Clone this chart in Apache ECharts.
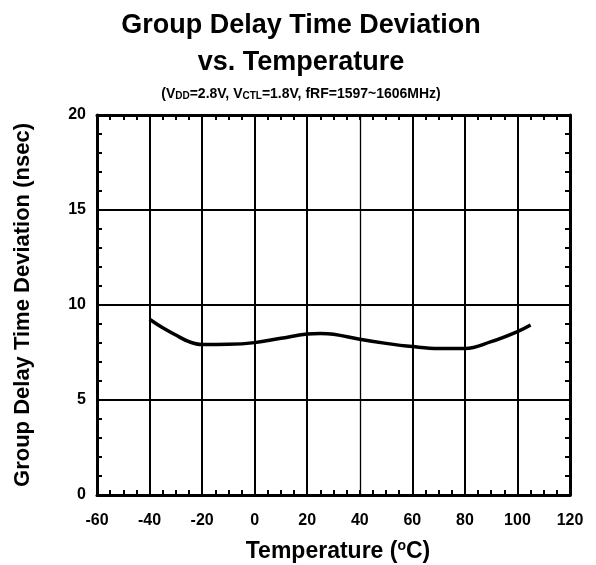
<!DOCTYPE html>
<html>
<head>
<meta charset="utf-8">
<script src="https://cdn.jsdelivr.net/npm/echarts@6/dist/echarts.min.js"></script>
<style>html,body{margin:0;padding:0;background:#fff}#c{width:596px;height:565px}</style>
</head>
<body>
<div id="c"></div>
<script>
var temps = [-40, -35, -30, -25, -20, -10, 0, 10, 20, 25, 30, 40, 50, 60, 70, 80, 90, 100, 105];
var delay = [9.25, 8.8, 8.42, 8.07, 7.92, 7.93, 8.02, 8.25, 8.47, 8.5, 8.46, 8.2, 7.98, 7.81, 7.71, 7.71, 8.07, 8.6, 8.95];
var xTicks = [-60, -40, -20, 0, 20, 40, 60, 80, 100, 120];
var yTicks = [0, 5, 10, 15, 20];
var xGridValues = [-40, -20, 0, 20, 40, 60, 80, 100];
var xGridWidths = [2, 2, 2, 2, 1.3, 2, 2, 2];

var FONT = 'Liberation Sans, Arial, sans-serif';
var chart = echarts.init(document.getElementById('c'), null, {renderer: 'canvas'});

var axisCommon = {
  axisLine: {show: true, onZero: false, lineStyle: {color: '#000', width: 3}},
  axisTick: {show: true, inside: true, length: 5, lineStyle: {color: '#000', width: 2}},
  minorTick: {show: true, length: 5, lineStyle: {color: '#000', width: 2}},
};

chart.setOption({
  animation: false,
  backgroundColor: '#fff',
  title: [
    {text: 'Group Delay Time Deviation\nvs. Temperature', left: 296, top: 2, textAlign: 'center',
     textStyle: {fontFamily: FONT, fontWeight: 'bold', fontSize: 27, lineHeight: 37, color: '#000'}},
    {text: '{n|(V}{s|DD}{n|=2.8V, V}{s|CTL}{n|=1.8V, fRF=1597~1606MHz)}', left: 296, top: 82, textAlign: 'center',
     textStyle: {rich: {
       n: {fontFamily: FONT, fontWeight: 'bold', fontSize: 14, color: '#000'},
       s: {fontFamily: FONT, fontWeight: 'bold', fontSize: 10, color: '#000', verticalAlign: 'bottom', padding: [3, 0, 0, 0]}
     }}},
    {text: '{n|Temperature (}{s|o}{n|C)}', left: 333, top: 534, textAlign: 'center',
     textStyle: {rich: {
       n: {fontFamily: FONT, fontWeight: 'bold', fontSize: 23, lineHeight: 26, color: '#000'},
       s: {fontFamily: FONT, fontWeight: 'bold', fontSize: 14, lineHeight: 14, color: '#000', verticalAlign: 'top'}
     }}}
  ],
  grid: {left: 97, right: 26, top: 115, bottom: 70, containLabel: false},
  xAxis: [
    Object.assign({}, axisCommon, {
      type: 'value', position: 'bottom', min: -60, max: 120, interval: 20,
      minorTick: Object.assign({}, axisCommon.minorTick, {splitNumber: 4}),
      splitLine: {show: false},
      axisLabel: {show: true, margin: 18, color: '#000', fontFamily: FONT, fontWeight: 'bold', fontSize: 16,
        formatter: function (v) { return xTicks.indexOf(v) >= 0 ? String(v) : ''; }}
    }),
    Object.assign({}, axisCommon, {
      type: 'value', position: 'top', min: -60, max: 120, interval: 20,
      minorTick: Object.assign({}, axisCommon.minorTick, {splitNumber: 4}),
      splitLine: {show: false}, axisLabel: {show: false}
    })
  ],
  yAxis: [
    Object.assign({}, axisCommon, {
      type: 'value', position: 'left', min: 0, max: 20, interval: 5,
      minorTick: Object.assign({}, axisCommon.minorTick, {splitNumber: 5}),
      splitLine: {show: true, lineStyle: {color: '#000', width: 2}},
      axisLabel: {show: true, margin: 11, color: '#000', fontFamily: FONT, fontWeight: 'bold', fontSize: 16,
        formatter: function (v) { return yTicks.indexOf(v) >= 0 ? String(v) : ''; }},
      name: 'Group Delay Time Deviation (nsec)', nameLocation: 'middle', nameGap: 63, nameRotate: 90,
      nameTextStyle: {color: '#000', fontFamily: FONT, fontWeight: 'bold', fontSize: 22}
    }),
    Object.assign({}, axisCommon, {
      type: 'value', position: 'right', min: 0, max: 20, interval: 5,
      minorTick: Object.assign({}, axisCommon.minorTick, {splitNumber: 5}),
      splitLine: {show: false}, axisLabel: {show: false}
    })
  ],
  series: [
    {
      type: 'line', xAxisIndex: 0, yAxisIndex: 0, smooth: 0.4, symbol: 'none',
      data: temps.map(function (t, i) { return [t, delay[i]]; }),
      lineStyle: {color: '#000', width: 3.5},
      z: 5,
      markLine: {
        silent: true, symbol: 'none', label: {show: false},
        data: xGridValues.map(function (v, i) {
          return {xAxis: v, lineStyle: {color: '#000', width: xGridWidths[i], type: 'solid'}};
        })
      }
    }
  ]
});
</script>
</body>
</html>
